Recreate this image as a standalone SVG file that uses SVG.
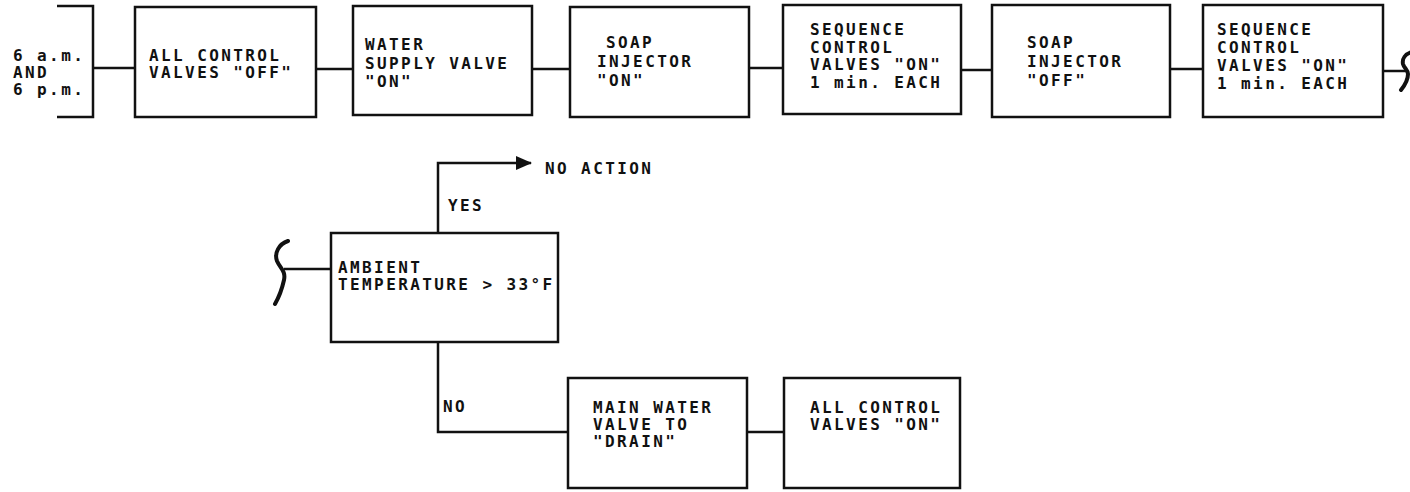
<svg xmlns="http://www.w3.org/2000/svg" width="1410" height="492" viewBox="0 0 1410 492">
<style>
.box{fill:#fff;stroke:#111;stroke-width:2.5}
.ln{fill:none;stroke:#111;stroke-width:2.5}
.br{fill:none;stroke:#111;stroke-width:4;stroke-linecap:round}
text{font-family:"DejaVu Sans Mono","Liberation Mono",monospace;font-size:16px;font-weight:bold;letter-spacing:2.4px;fill:#111}
</style>
<defs>
<marker id="arr" viewBox="0 0 16 14" refX="15" refY="7" markerWidth="16" markerHeight="14" markerUnits="userSpaceOnUse" orient="auto">
<path d="M0,0 L16,7 L0,14 Z" fill="#111"/>
</marker>
</defs>
<g id="connectors">
<line class="ln" x1="93" y1="68" x2="135" y2="68"/>
<line class="ln" x1="316" y1="69" x2="353" y2="69"/>
<line class="ln" x1="532" y1="69" x2="570" y2="69"/>
<line class="ln" x1="749" y1="68" x2="783" y2="68"/>
<line class="ln" x1="961" y1="70" x2="992" y2="70"/>
<line class="ln" x1="1170" y1="69" x2="1203" y2="69"/>
<line class="ln" x1="1383" y1="71" x2="1408" y2="71"/>
<path class="br" d="M1412,52 C1405,54 1402,59 1403,64 C1404,68 1408,70 1408,74 C1408,80 1405,85 1401,90"/>
<path class="br" d="M288,241 C279,244 274,253 277,261 C280,268 286,271 284,280 C282,289 279,297 275,304"/>
<line class="ln" x1="284" y1="269" x2="331" y2="269"/>
<polyline class="ln" points="438,233 438,163 531,163" marker-end="url(#arr)"/>
<polyline class="ln" points="438,342 438,432 568,432"/>
<line class="ln" x1="747" y1="432" x2="784" y2="432"/>
</g>
<g id="n-time">
<polyline class="ln" points="57,6 93,6 93,117 57,117"/>
<text x="13" y="61">6 a.m.</text>
<text x="13" y="78">AND</text>
<text x="13" y="95">6 p.m.</text>
</g>
<g id="n-all-off">
<rect class="box" x="135" y="7" width="181" height="110"/>
<text x="149" y="61">ALL CONTROL</text>
<text x="149" y="78">VALVES "OFF"</text>
</g>
<g id="n-water-supply">
<rect class="box" x="353" y="6" width="179" height="109"/>
<text x="365" y="50">WATER</text>
<text x="365" y="69">SUPPLY VALVE</text>
<text x="365" y="87">"ON"</text>
</g>
<g id="n-soap-on">
<rect class="box" x="570" y="7" width="179" height="110"/>
<text x="606" y="48">SOAP</text>
<text x="597" y="67">INJECTOR</text>
<text x="597" y="86">"ON"</text>
</g>
<g id="n-seq1">
<rect class="box" x="783" y="5" width="178" height="109"/>
<text x="810" y="35">SEQUENCE</text>
<text x="810" y="53">CONTROL</text>
<text x="810" y="70">VALVES "ON"</text>
<text x="810" y="88">1 min. EACH</text>
</g>
<g id="n-soap-off">
<rect class="box" x="992" y="5" width="178" height="112"/>
<text x="1027" y="48">SOAP</text>
<text x="1027" y="67">INJECTOR</text>
<text x="1027" y="86">"OFF"</text>
</g>
<g id="n-seq2">
<rect class="box" x="1203" y="5" width="180" height="112"/>
<text x="1217" y="35">SEQUENCE</text>
<text x="1217" y="53">CONTROL</text>
<text x="1217" y="71">VALVES "ON"</text>
<text x="1217" y="89">1 min. EACH</text>
</g>
<g id="n-ambient">
<rect class="box" x="331" y="233" width="227" height="109"/>
<text x="338" y="273">AMBIENT</text>
<text x="338" y="290">TEMPERATURE &gt; 33°F</text>
</g>
<g id="labels">
<text x="545" y="174">NO ACTION</text>
<text x="448" y="211">YES</text>
<text x="443" y="412">NO</text>
</g>
<g id="n-main-drain">
<rect class="box" x="568" y="378" width="179" height="110"/>
<text x="593" y="413">MAIN WATER</text>
<text x="593" y="430">VALVE TO</text>
<text x="593" y="447">"DRAIN"</text>
</g>
<g id="n-all-on">
<rect class="box" x="784" y="378" width="176" height="110"/>
<text x="810" y="413">ALL CONTROL</text>
<text x="810" y="430">VALVES "ON"</text>
</g>
</svg>
